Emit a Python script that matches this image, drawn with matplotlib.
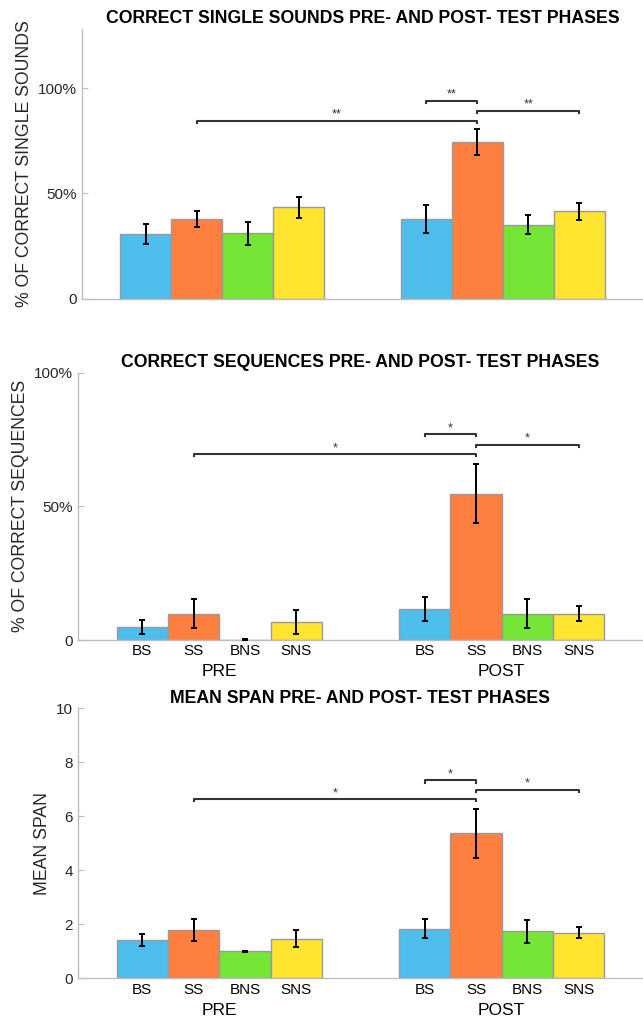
import matplotlib.pyplot as plt
import numpy as np

plt.rcParams['font.family'] = ['Liberation Sans', 'DejaVu Sans']

# Condizioni e fasi
conditions = ['BS', 'SS', 'BNS', 'SNS']
phases = ['PRE', 'POST']
colors = ['#4DBEEB', '#FF7F3F', '#75E635', '#FFE52F']

# Pannello 1: suoni singoli corretti (frazione)
single_pre = [0.308, 0.379, 0.312, 0.434]
single_post = [0.379, 0.743, 0.353, 0.415]
single_pre_err = [0.049, 0.037, 0.054, 0.049]
single_post_err = [0.067, 0.062, 0.047, 0.041]

# Pannello 2: sequenze corrette (frazione)
seq_pre = [0.049, 0.099, 0.0, 0.066]
seq_post = [0.116, 0.548, 0.099, 0.099]
seq_pre_err = [0.026, 0.053, 0.002, 0.045]
seq_post_err = [0.045, 0.11, 0.053, 0.029]

# Pannello 3: span medio
span_pre = [1.42, 1.78, 1.01, 1.47]
span_post = [1.84, 5.37, 1.74, 1.69]
span_pre_err = [0.22, 0.40, 0.02, 0.31]
span_post_err = [0.36, 0.90, 0.42, 0.21]

# Significativita': (gruppo1, barra1, gruppo2, barra2, altezza, etichetta)
single_sig = [(0, 1, 1, 1, 0.845, '**'), (1, 0, 1, 1, 0.938, '**'), (1, 1, 1, 3, 0.891, '**')]
seq_sig = [(0, 1, 1, 1, 0.695, '*'), (1, 0, 1, 1, 0.77, '*'), (1, 1, 1, 3, 0.73, '*')]
span_sig = [(0, 1, 1, 1, 6.63, '*'), (1, 0, 1, 1, 7.33, '*'), (1, 1, 1, 3, 6.98, '*')]

groupwidth = min(0.8, 4 / 5.5)
bw = groupwidth / 4
offsets = (np.arange(4) - 1.5) * bw


def bar_x(g, b):
    return g + 1 + offsets[b]


def draw_panel(ax, pre, post, pre_err, post_err, sig, ymax, title, ylabel, yticks, yticklabels, xlabels):
    for g, (vals, errs) in enumerate([(pre, pre_err), (post, post_err)]):
        xs = [bar_x(g, b) for b in range(4)]
        ax.bar(xs, vals, width=bw, color=colors, edgecolor='#9a9a9a', linewidth=1.0, zorder=2)
        ax.errorbar(xs, vals, yerr=errs, fmt='none', ecolor='black', elinewidth=1.4,
                    capsize=2.5, capthick=1.4, zorder=3)
    d = ymax * 0.008
    for g1, b1, g2, b2, h, lab in sig:
        x1, x2 = bar_x(g1, b1), bar_x(g2, b2)
        ax.plot([x1, x1, x2, x2], [h - d, h, h, h - d], color='#333333', lw=1.5, zorder=4)
        ax.text((x1 + x2) / 2, h + ymax * 0.001, lab, ha='center', va='bottom', fontsize=9, color='#333333')
    ax.set_xlim(0.5, 2.5)
    ax.set_ylim(0, ymax)
    ax.set_yticks(yticks)
    ax.set_yticklabels(yticklabels)
    ax.set_title(title, fontsize=12.7, fontweight='bold', pad=4)
    ax.set_ylabel(ylabel, fontsize=12.7, color='#262626')
    for s in ['top', 'right']:
        ax.spines[s].set_visible(False)
    for s in ['left', 'bottom']:
        ax.spines[s].set_color('#bdbdbd')
        ax.spines[s].set_linewidth(1.0)
    ax.tick_params(axis='y', direction='in', length=4, color='#bdbdbd', labelsize=11, labelcolor='#262626')
    if xlabels:
        xs = [bar_x(g, b) for g in range(2) for b in range(4)]
        ax.set_xticks(xs)
        ax.set_xticklabels(conditions * 2)
        ax.tick_params(axis='x', direction='in', length=0, labelsize=11, pad=3)
        for g, ph in enumerate(phases):
            ax.annotate(ph, xy=(g + 1, 0), xycoords=('data', 'axes fraction'),
                        xytext=(0, -23), textcoords='offset points',
                        ha='center', va='center', fontsize=12.5, annotation_clip=False)
    else:
        ax.set_xticks([])


fig = plt.figure(figsize=(6.43, 10.19), dpi=100)
ax1 = fig.add_axes([0.1275, 0.7066, 0.8725, 0.265])
ax2 = fig.add_axes([0.1213, 0.3719, 0.8787, 0.2623])
ax3 = fig.add_axes([0.1213, 0.0399, 0.8787, 0.265])

draw_panel(ax1, single_pre, single_post, single_pre_err, single_post_err, single_sig, 1.28,
           'CORRECT SINGLE SOUNDS PRE- AND POST- TEST PHASES', '% OF CORRECT SINGLE SOUNDS',
           [0, 0.5, 1.0], ['0', '50%', '100%'], False)
draw_panel(ax2, seq_pre, seq_post, seq_pre_err, seq_post_err, seq_sig, 1.0,
           'CORRECT SEQUENCES PRE- AND POST- TEST PHASES', '% OF CORRECT SEQUENCES',
           [0, 0.5, 1.0], ['0', '50%', '100%'], True)
draw_panel(ax3, span_pre, span_post, span_pre_err, span_post_err, span_sig, 10,
           'MEAN SPAN PRE- AND POST- TEST PHASES', 'MEAN SPAN',
           [0, 2, 4, 6, 8, 10], ['0', '2', '4', '6', '8', '10'], True)

fig.savefig('out.png', dpi=100)
